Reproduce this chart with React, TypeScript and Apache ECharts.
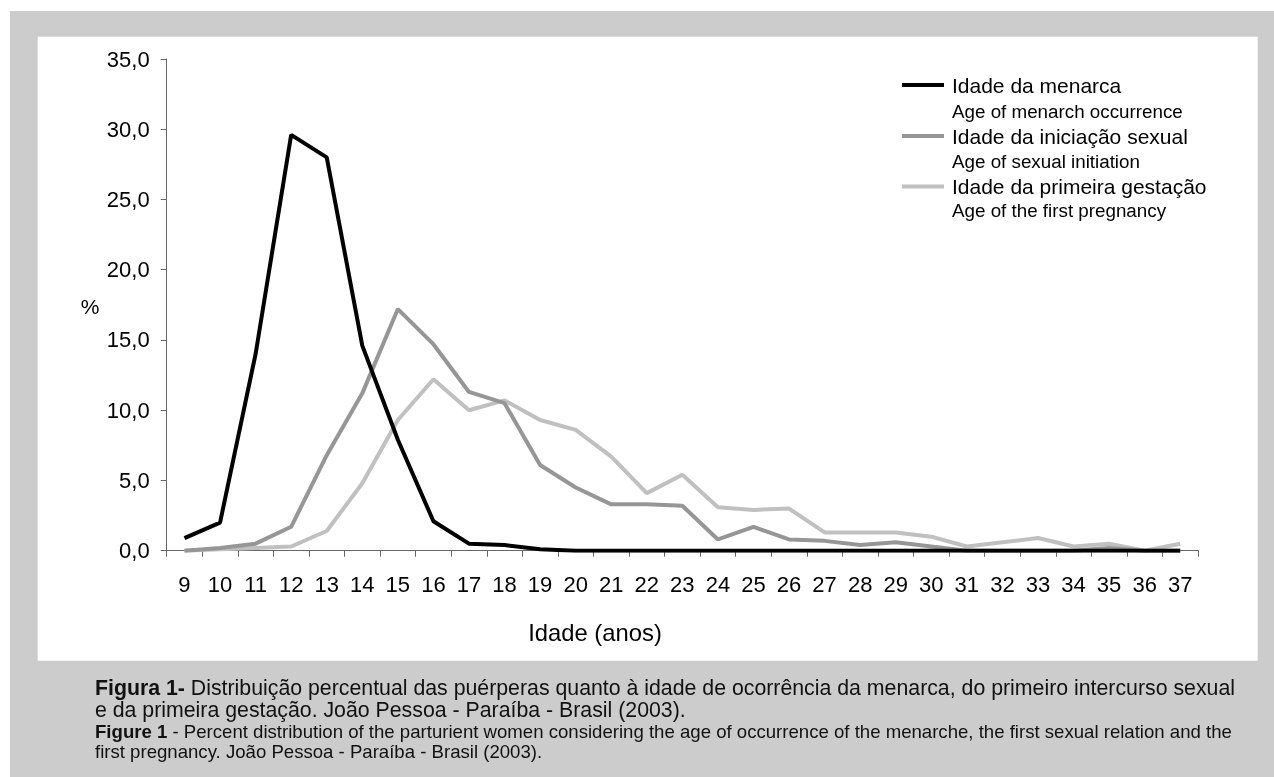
import React, { useEffect, useRef } from "react";
import * as echarts from "echarts";

const ages = ["9","10","11","12","13","14","15","16","17","18","19","20","21","22","23","24","25","26","27","28","29","30","31","32","33","34","35","36","37"];
const menarca = [0.9, 2.0, 14.0, 29.6, 28.0, 14.6, 7.9, 2.1, 0.5, 0.4, 0.1, 0.0, 0.0, 0.0, 0.0, 0.0, 0.0, 0.0, 0.0, 0.0, 0.0, 0.0, 0.0, 0.0, 0.0, 0.0, 0.0, 0.0, 0.0];
const iniciacao = [0.0, 0.2, 0.5, 1.7, 6.8, 11.2, 17.2, 14.7, 11.3, 10.5, 6.1, 4.5, 3.3, 3.3, 3.2, 0.8, 1.7, 0.8, 0.7, 0.4, 0.6, 0.3, 0.0, 0.0, 0.0, 0.0, 0.2, 0.0, 0.0];
const gestacao = [0.0, 0.1, 0.2, 0.3, 1.4, 4.8, 9.3, 12.2, 10.0, 10.7, 9.3, 8.6, 6.7, 4.1, 5.4, 3.1, 2.9, 3.0, 1.3, 1.3, 1.3, 1.0, 0.3, 0.6, 0.9, 0.3, 0.5, 0.0, 0.5];

const legendMain = ["Idade da menarca", "Idade da iniciação sexual", "Idade da primeira gestação"];
const legendSub = ["Age of menarch occurrence", "Age of sexual initiation", "Age of the first pregnancy"];
const colors = ["#000000", "#969696", "#c0c0c0"];

const FONT = "'Liberation Sans', Arial, sans-serif";

export default function App() {
  const ref = useRef<HTMLDivElement>(null);
  useEffect(() => {
    if (!ref.current) return;
    const chart = echarts.init(ref.current, null, { renderer: "svg" });
    const legendGraphics: any[] = [];
    const rowY = [85, 136, 186.5];
    const subY = [111.5, 161.5, 210.5];
    for (let i = 0; i < 3; i++) {
      legendGraphics.push({
        type: "line",
        shape: { x1: 902, y1: rowY[i], x2: 944, y2: rowY[i] },
        style: { stroke: colors[i], lineWidth: 4 },
        z: 100,
      });
      legendGraphics.push({
        type: "text",
        x: 952,
        y: rowY[i],
        style: { text: legendMain[i], font: `21px ${FONT}`, fill: "#000", verticalAlign: "middle", align: "left" },
        z: 100,
      });
      legendGraphics.push({
        type: "text",
        x: 952,
        y: subY[i],
        style: { text: legendSub[i], font: `18.8px ${FONT}`, fill: "#000", verticalAlign: "middle", align: "left" },
        z: 100,
      });
    }
    const option: any = {
      animation: false,
      textStyle: { fontFamily: FONT },
      grid: { left: 166.7, right: 76, top: 59, bottom: 226.3, containLabel: false },
      xAxis: {
        type: "category",
        data: ages,
        boundaryGap: true,
        axisLine: { lineStyle: { color: "#666", width: 1 } },
        axisTick: { show: true, length: 6, interval: 0, lineStyle: { color: "#666" } },
        axisLabel: { interval: 0, fontSize: 22, color: "#000", margin: 23, fontFamily: FONT },
        splitLine: { show: false },
      },
      yAxis: {
        type: "value",
        min: 0,
        max: 35,
        interval: 5,
        axisLine: { show: true, lineStyle: { color: "#666", width: 1 } },
        axisTick: { show: true, length: 6, lineStyle: { color: "#666" } },
        axisLabel: {
          fontSize: 22,
          color: "#000",
          margin: 17,
          fontFamily: FONT,
          formatter: (v: number) => v.toFixed(1).replace(".", ","),
        },
        splitLine: { show: false },
      },
      series: [
        { name: legendMain[2], type: "line", data: gestacao, symbol: "none", lineStyle: { color: colors[2], width: 4 }, itemStyle: { color: colors[2] }, z: 2 },
        { name: legendMain[1], type: "line", data: iniciacao, symbol: "none", lineStyle: { color: colors[1], width: 4 }, itemStyle: { color: colors[1] }, z: 3 },
        { name: legendMain[0], type: "line", data: menarca, symbol: "none", lineStyle: { color: colors[0], width: 4 }, itemStyle: { color: colors[0] }, z: 4 },
      ],
      graphic: [
        { type: "rect", shape: { x: 10, y: 11, width: 1264, height: 766 }, style: { fill: "#cccccc" }, z: -100, silent: true },
        { type: "rect", shape: { x: 37.7, y: 36.7, width: 1220, height: 624 }, style: { fill: "#ffffff" }, z: -99, silent: true },
        { type: "text", x: 90, y: 306, style: { text: "%", font: `21px ${FONT}`, fill: "#000", align: "center", verticalAlign: "middle" }, z: 100 },
        { type: "text", x: 595, y: 632, style: { text: "Idade (anos)", font: `23.8px ${FONT}`, fill: "#000", align: "center", verticalAlign: "middle" }, z: 100 },
        {
          type: "text", x: 95, y: 688, z: 100,
          style: {
            text: "{b|Figura 1-}{n| Distribuição percentual das puérperas quanto à idade de ocorrência da menarca, do primeiro intercurso sexual}",
            verticalAlign: "middle", align: "left",
            rich: {
              b: { font: `bold 21.3px ${FONT}`, fill: "#111" },
              n: { font: `21.3px ${FONT}`, fill: "#111" },
            },
          },
        },
        { type: "text", x: 95, y: 710, z: 100, style: { text: "e da primeira gestação. João Pessoa - Paraíba - Brasil (2003).", font: `21.3px ${FONT}`, fill: "#111", verticalAlign: "middle", align: "left" } },
        {
          type: "text", x: 95, y: 731, z: 100,
          style: {
            text: "{b|Figure 1}{n| - Percent distribution of the parturient women considering the age of occurrence of the menarche, the first sexual relation and the}",
            verticalAlign: "middle", align: "left",
            rich: {
              b: { font: `bold 18.6px ${FONT}`, fill: "#111" },
              n: { font: `18.6px ${FONT}`, fill: "#111" },
            },
          },
        },
        { type: "text", x: 95, y: 751, z: 100, style: { text: "first pregnancy. João Pessoa - Paraíba - Brasil (2003).", font: `18.6px ${FONT}`, fill: "#111", verticalAlign: "middle", align: "left" } },
        ...legendGraphics,
      ],
    };
    chart.setOption(option);
    return () => chart.dispose();
  }, []);
  return <div ref={ref} style={{ position: "fixed", left: 0, top: 0, width: 1274, height: 777 }} />;
}
